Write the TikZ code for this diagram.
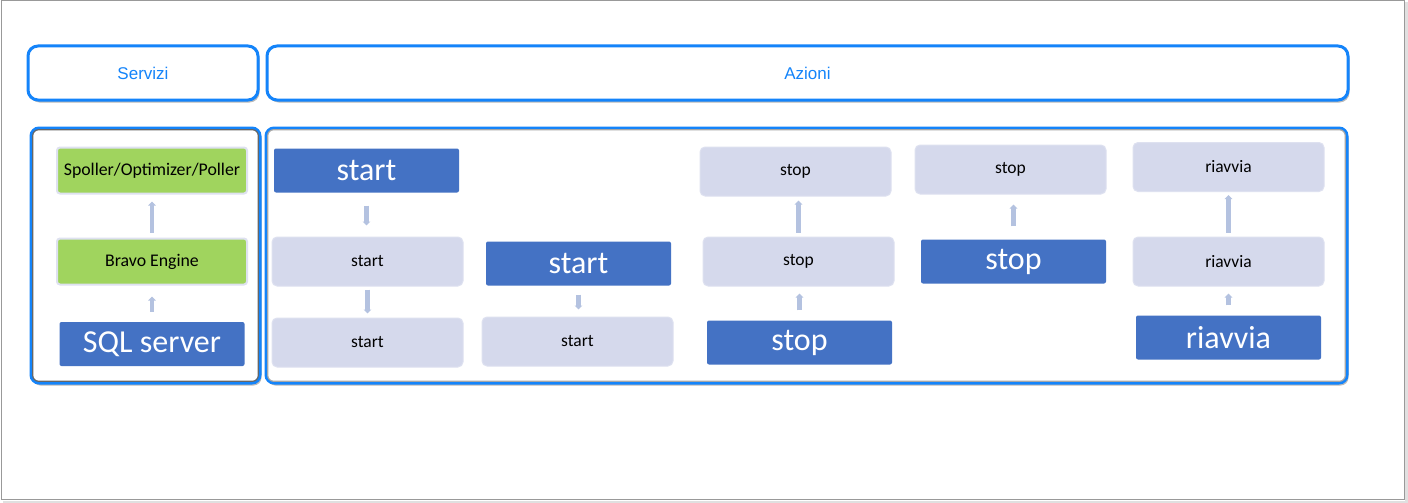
\documentclass[tikz,border=0pt]{standalone}
\usepackage{fontspec}
\setmainfont{Carlito}
\newfontfamily\arialf{Liberation Sans}
\usetikzlibrary{arrows.meta,shadows}
\definecolor{bluebr}{RGB}{20,132,250}
\definecolor{darkbox}{RGB}{68,114,196}
\definecolor{lightbox}{RGB}{213,217,236}
\definecolor{lightedge}{RGB}{222,225,240}
\definecolor{greenbox}{RGB}{160,212,94}
\definecolor{arrcol}{RGB}{180,194,224}
\tikzset{
  hdr/.style={draw=bluebr, line width=3pt, rounded corners=10pt, fill=white,
    drop shadow={shadow xshift=1.5pt, shadow yshift=-2.5pt, fill=black!45, opacity=0.6},
    font=\arialf\fontsize{17}{20}\selectfont, text=bluebr, inner sep=0pt},
  panel/.style={draw=bluebr, line width=3pt, rounded corners=8pt, fill=white,
    drop shadow={shadow xshift=1.5pt, shadow yshift=-2.5pt, fill=black!45, opacity=0.6}, inner sep=0pt},
  darkb/.style={fill=darkbox, rounded corners=2pt, minimum width=185pt, minimum height=44pt,
    text=white, font=\fontsize{32}{36}\selectfont, inner sep=0pt},
  lightb/.style={fill=lightbox, draw=lightedge, line width=1pt, rounded corners=5pt, minimum width=191pt, minimum height=49pt,
    text=black, font=\fontsize{17.5}{20}\selectfont, inner sep=0pt},
  greenb/.style={fill=greenbox, draw=lightedge, line width=2pt, rounded corners=3pt, minimum width=190pt, minimum height=46pt,
    text=black, font=\fontsize{17.8}{20}\selectfont, inner sep=0pt},
  arr/.style={draw=arrcol, line width=4.5pt, -{Triangle[width=7.5pt,length=4pt]}},
}
\begin{document}
\begin{tikzpicture}[x=1pt,y=-1pt]
\useasboundingbox (0,0) rectangle (1408,503);
\fill[white] (0,0) rectangle (1408,503);
\draw[black!12, line width=3pt] (3,4) -- (1406,4) -- (1406,502) -- (3,502);
\draw[black!40, line width=1pt, fill=white] (1,1) rectangle (1404.5,499.5);
% headers
\node[hdr, minimum width=230pt, minimum height=54pt] (serv) at (143,73) {Servizi};
\node[hdr, minimum width=1081pt, minimum height=54pt] (az) at (807.5,73) {Azioni};
% panels
\node[panel, minimum width=229pt, minimum height=255pt] (lp) at (145.5,255.5) {};
\draw[black!60, line width=1.2pt, rounded corners=6pt] ([shift={(3.2pt,3.2pt)}]lp.south west) rectangle ([shift={(-3.2pt,-3.2pt)}]lp.north east);
\node[panel, minimum width=1081pt, minimum height=255pt] (rp) at (806.5,255.5) {};
\draw[black!35, line width=1.2pt, rounded corners=6pt] ([shift={(3.2pt,3.2pt)}]rp.south west) rectangle ([shift={(-3.2pt,-3.2pt)}]rp.north east);
% left column
\node[greenb] (sp) at (152,170.5) {Spoller/Optimizer/Poller};
\node[greenb] (be) at (152,261.5) {Bravo Engine};
\node[darkb] (sql) at (152,344) {SQL server};
\draw[arr] ([yshift=10pt]sql.north) -- ([yshift=-11pt]sql.north |- be.south);
\draw[arr] ([yshift=5pt]be.north) -- ([yshift=-7pt]be.north |- sp.south);
% column 1
\node[darkb] (c1a) at (366.5,170.5) {start};
\node[lightb] (c1b) at (367.5,261.5) {start};
\node[lightb] (c1c) at (367.5,342.5) {start};
\draw[arr] ([yshift=-13pt]c1a.south) -- ([yshift=11pt]c1a.south |- c1b.north);
\draw[arr] ([yshift=-3pt]c1b.south) -- ([yshift=4pt]c1b.south |- c1c.north);
% column 2
\node[darkb] (c2a) at (578.5,263.5) {start};
\node[lightb] (c2b) at (577.5,341.5) {start};
\draw[arr] ([yshift=-9pt]c2a.south) -- ([yshift=7pt]c2a.south |- c2b.north);
% column 3
\node[lightb] (c3a) at (795.5,171.5) {stop};
\node[lightb] (c3b) at (798.5,261.5) {stop};
\node[darkb] (c3c) at (799.5,342.5) {stop};
\draw[arr] ([yshift=4pt]c3b.north) -- ([yshift=-4pt]c3b.north |- c3a.south);
\draw[arr] ([yshift=10pt]c3c.north) -- ([yshift=-7pt]c3c.north |- c3b.south);
% column 4
\node[lightb] (c4a) at (1010.5,169.5) {stop};
\node[darkb] (c4b) at (1013.5,261.5) {stop};
\draw[arr] ([yshift=13pt]c4b.north) -- ([yshift=-10pt]c4b.north |- c4a.south);
% column 5
\node[lightb] (c5a) at (1228.5,167) {riavvia};
\node[lightb] (c5b) at (1228.5,261.5) {riavvia};
\node[darkb] (c5c) at (1228.5,337.5) {riavvia};
\draw[arr] ([yshift=4pt]c5b.north) -- ([yshift=-3pt]c5b.north |- c5a.south);
\draw[arr] ([yshift=10pt]c5c.north) -- ([yshift=-7pt]c5c.north |- c5b.south);
\end{tikzpicture}
\end{document}
